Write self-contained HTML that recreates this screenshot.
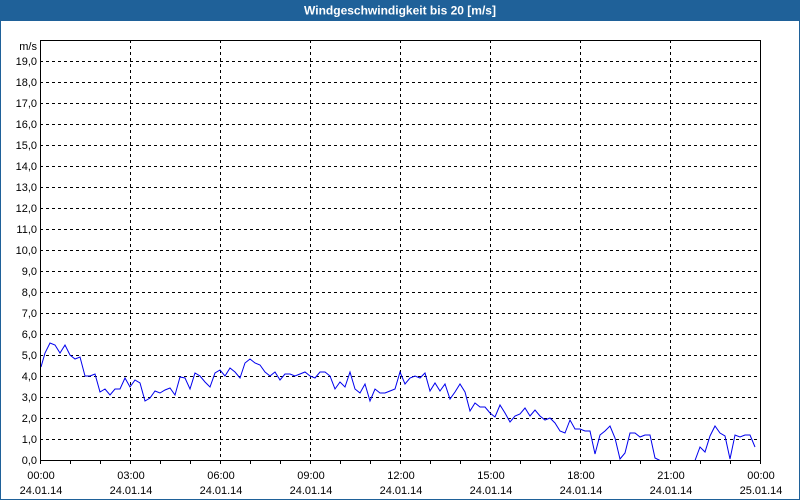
<!DOCTYPE html>
<html><head><meta charset="utf-8"><style>
html,body{margin:0;padding:0;background:#fff;}
svg{display:block;font-family:"Liberation Sans",Tahoma,sans-serif;}
</style></head><body>
<svg width="800" height="500" viewBox="0 0 800 500" xmlns="http://www.w3.org/2000/svg">
<rect x="0" y="0" width="800" height="500" fill="#fff"/>
<rect x="0" y="0" width="800" height="21" fill="#1f6199"/>
<rect x="0.5" y="0.5" width="799" height="499" fill="none" stroke="#1f6199"/>
<text x="400" y="14.5" fill="#fff" font-size="12" font-weight="bold" text-anchor="middle">Windgeschwindigkeit bis 20 [m/s]</text>
<g stroke="#000" stroke-width="1" stroke-dasharray="3,3" fill="none">
<path d="M40 61.5H760M40 82.5H760M40 103.5H760M40 124.5H760M40 145.5H760M40 166.5H760M40 187.5H760M40 208.5H760M40 229.5H760M40 250.5H760M40 271.5H760M40 292.5H760M40 313.5H760M40 334.5H760M40 355.5H760M40 376.5H760M40 397.5H760M40 418.5H760M40 439.5H760"/>
<path d="M130.5 40V460M220.5 40V460M310.5 40V460M400.5 40V460M490.5 40V460M580.5 40V460M670.5 40V460"/>
</g>
<g stroke="#000"><path d="M40.5 460v4M70.5 460v4M100.5 460v4M130.5 460v4M160.5 460v4M190.5 460v4M220.5 460v4M250.5 460v4M280.5 460v4M310.5 460v4M340.5 460v4M370.5 460v4M400.5 460v4M430.5 460v4M460.5 460v4M490.5 460v4M520.5 460v4M550.5 460v4M580.5 460v4M610.5 460v4M640.5 460v4M670.5 460v4M700.5 460v4M730.5 460v4M760.5 460v4"/></g>
<g font-size="11" fill="#000" text-anchor="end">
<text x="37" y="50">m/s</text>
<text x="37" y="65">19,0</text><text x="37" y="86">18,0</text><text x="37" y="107">17,0</text><text x="37" y="128">16,0</text><text x="37" y="149">15,0</text><text x="37" y="170">14,0</text><text x="37" y="191">13,0</text><text x="37" y="212">12,0</text><text x="37" y="233">11,0</text><text x="37" y="254">10,0</text><text x="37" y="275">9,0</text><text x="37" y="296">8,0</text><text x="37" y="317">7,0</text><text x="37" y="338">6,0</text><text x="37" y="359">5,0</text><text x="37" y="380">4,0</text><text x="37" y="401">3,0</text><text x="37" y="422">2,0</text><text x="37" y="443">1,0</text><text x="37" y="464">0,0</text>
</g>
<g font-size="11" fill="#000" text-anchor="middle">
<text x="41" y="479">00:00</text><text x="41" y="494">24.01.14</text>
<text x="131" y="479">03:00</text><text x="131" y="494">24.01.14</text>
<text x="221" y="479">06:00</text><text x="221" y="494">24.01.14</text>
<text x="311" y="479">09:00</text><text x="311" y="494">24.01.14</text>
<text x="401" y="479">12:00</text><text x="401" y="494">24.01.14</text>
<text x="491" y="479">15:00</text><text x="491" y="494">24.01.14</text>
<text x="581" y="479">18:00</text><text x="581" y="494">24.01.14</text>
<text x="671" y="479">21:00</text><text x="671" y="494">24.01.14</text>
<text x="761" y="479">00:00</text><text x="761" y="494">25.01.14</text>
</g>
<polyline fill="none" stroke="#0000ee" stroke-width="1" points="41,367 45,353 50,343 55,345 60,353 65,345 70,355 75,359 80,357 85,376 90,376 95,374 100,392 105,389 110,395 115,389 120,389 125,378 130,387 135,380 140,383 145,401 150,398 155,391 160,393 165,390 170,388 175,395 180,377 185,378 190,389 195,373 200,376 205,382 210,387 215,373 220,370 225,376 230,368 235,372 240,378 245,363 250,359 255,363 260,365 265,372 270,376 275,372 280,380 285,374 290,374 295,376 300,374 305,372 310,376 315,378 320,372 325,372 330,376 335,389 340,382 345,387 350,372 355,389 360,393 365,384 370,401 375,389 380,393 385,393 390,391 395,389 400,372 405,384 410,378 415,376 420,378 425,373 430,391 435,383 440,391 445,384 450,399 455,392 460,384 465,392 470,411 475,403 480,407 485,407 490,413 495,417 500,405 505,413 510,422 515,416 520,414 525,408 530,416 535,410 540,416 545,420 550,418 555,423 560,431 565,433 570,420 575,429 580,429 585,431 590,431 595,454 600,435 605,431 610,426 615,438 620,459 625,453 630,433 635,433 640,437 645,435 650,435 655,458 660,460.5 695,460.5 700,447 705,452 710,436 715,426 720,433 725,436 730,459 735,435 740,437 745,435 750,435 755,447"/>
<rect x="40.5" y="40.5" width="720" height="420" fill="none" stroke="#000"/>
</svg>
</body></html>
